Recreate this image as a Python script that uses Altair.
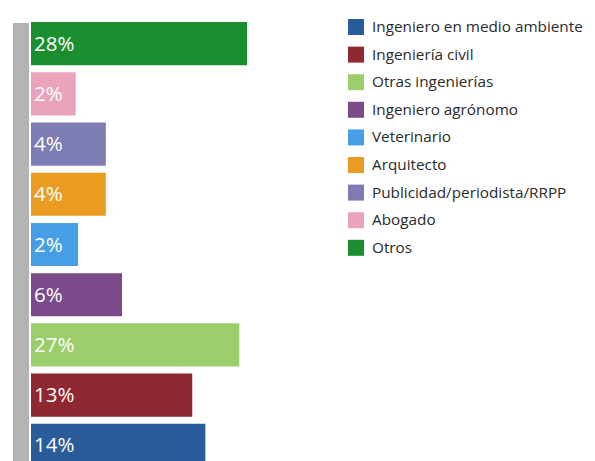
import altair as alt
import pandas as pd

categorias = ["Otros", "Abogado", "Publicidad/periodista/RRPP", "Arquitecto", "Veterinario",
              "Ingeniero agrónomo", "Otras ingenierías", "Ingeniería civil", "Ingeniero en medio ambiente"]
etiquetas = ["28%", "2%", "4%", "4%", "2%", "6%", "27%", "13%", "14%"]
largos = [28.0, 5.8, 9.7, 9.7, 6.1, 11.8, 27.0, 20.9, 22.6]
colores = ["#1a8f30", "#e9a3bc", "#7e7db3", "#e99c21", "#469fe6",
           "#7b4a8b", "#9bcd6a", "#8f2830", "#2b5c9a"]

orden_leyenda = list(reversed(categorias))
colores_leyenda = list(reversed(colores))

df = pd.DataFrame({"categoria": categorias, "etiqueta": etiquetas, "largo": largos})

base = alt.Chart(df).encode(
    y=alt.Y("categoria:N", sort=categorias,
            scale=alt.Scale(paddingInner=0.14, paddingOuter=0.07),
            axis=None)
)

barra_gris = alt.Chart(df).mark_rule(color="#b3b3b5", strokeWidth=16).encode(
    x=alt.value(-10), y=alt.value(4.5), y2=alt.value(470)
)

bars = base.mark_bar().encode(
    x=alt.X("largo:Q", scale=alt.Scale(domain=[0, 28]), axis=None),
    color=alt.Color("categoria:N",
                    scale=alt.Scale(domain=orden_leyenda, range=colores_leyenda),
                    legend=alt.Legend(orient="none", legendX=317, legendY=0.5,
                                      title=None, symbolType="square", symbolSize=256,
                                      symbolStrokeWidth=0, labelFontSize=15.3,
                                      labelFont="Open Sans", labelColor="#2a2a2a",
                                      rowPadding=10.6, labelOffset=8, padding=0,
                                      labelLimit=400))
)

text = base.mark_text(align="left", baseline="middle", dx=3, dy=1, color="white",
                      fontSize=20.5, font="Open Sans").encode(
    x=alt.value(0),
    text="etiqueta:N"
)

chart = alt.layer(barra_gris, bars, text).properties(
    width=216, height=452,
    autosize=alt.AutoSizeParams(type="none"),
    padding={"left": 23, "top": 10.5, "right": 340, "bottom": 0}
).configure_view(stroke=None)

chart.save("out.html", embed_options={"renderer": "svg", "actions": False})
